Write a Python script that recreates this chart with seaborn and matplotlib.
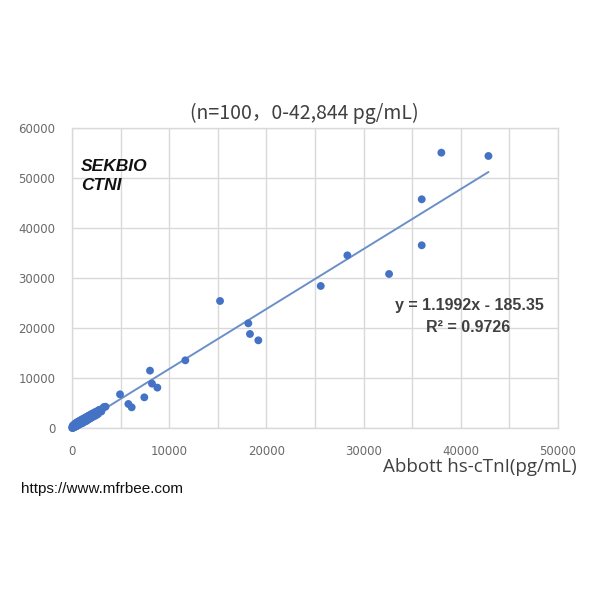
import matplotlib
matplotlib.use("Agg")
import matplotlib.pyplot as plt
import seaborn as sns
import pandas as pd
from matplotlib.ticker import MultipleLocator

# ---- data ----
abbott_outer = [42844, 38000, 35980, 35980, 32620, 28330, 25590, 15230, 18140, 18310,
                19170, 11660, 8025, 8230, 8780, 7440, 4940, 5800, 6140, 3290, 2780]
sekbio_outer = [54400, 55060, 45740, 36540, 30800, 34530, 28400, 25400, 20930, 18800,
                17530, 13530, 11470, 8870, 8070, 6130, 6730, 4800, 4130, 4200, 3600]

abbott_low = [20, 45, 60, 80, 100, 120, 150, 170, 200, 230, 260, 290, 320, 350, 380,
              410, 450, 480, 520, 560, 600, 640, 680, 720, 760, 800, 850, 900, 950, 1000,
              1050, 1100, 1150, 1200, 1260, 1320, 1380, 1440, 1500, 1560, 1620, 1680, 1740,
              1800, 1870, 1940, 2010, 2080, 2150, 2230, 2310, 2400, 2490, 2580, 2680, 2900,
              3020, 3150, 3450, 90, 140, 310, 430, 700, 980, 1230, 1480, 1650, 1900, 2200,
              2450, 2750, 130, 580, 1120, 1700, 2050, 2600, 1350]
sekbio_low = [10, 260, 40, 310, 90, 460, 50, 530, 210, 700, 180, 760, 340, 930, 300,
              900, 380, 1080, 460, 1160, 640, 1260, 620, 1350, 720, 1440, 800, 1550, 920, 1650,
              1020, 1780, 1050, 1880, 1250, 2000, 1380, 2150, 1420, 2280, 1660, 2400, 1780,
              2550, 1920, 2700, 2080, 2850, 2230, 3000, 2380, 3200, 2550, 3350, 2800, 3650,
              3300, 3900, 4250, 450, 130, 620, 360, 1080, 1000, 1650, 1500, 2300, 2000, 2900,
              2750, 3500, 400, 880, 1300, 1800, 2500, 3100, 1900]

slope = 1.1992
intercept = -185.35
title = "(n=100，0-42,844 pg/mL)"
brand = "SEKBIO\nCTNI"
x_label = "Abbott hs-cTnI(pg/mL)"
equation = "y = 1.1992x - 185.35"
r2_text = "R² = 0.9726"
url = "https://www.mfrbee.com"

df = pd.DataFrame({"abbott": abbott_outer + abbott_low,
                   "sekbio": sekbio_outer + sekbio_low})
xs = [min(df["abbott"]), max(df["abbott"])]
fit = pd.DataFrame({"x": xs, "y": [slope * v + intercept for v in xs]})

sns.set_theme(style="white")
plt.rcParams["font.family"] = ["DejaVu Sans"]

fig = plt.figure(figsize=(6, 6), dpi=100)
ax = fig.add_axes([0.12, 0.2867, 0.81, 0.50])

sns.lineplot(data=fit, x="x", y="y", ax=ax, color="#6b8fc8", linewidth=1.4)
sns.scatterplot(data=df, x="abbott", y="sekbio", ax=ax, color="#4472c4",
                s=32, edgecolor="none", clip_on=False, zorder=3)

ax.set_xlim(0, 50000)
ax.set_ylim(0, 60000)
ax.xaxis.set_major_locator(MultipleLocator(10000))
ax.xaxis.set_minor_locator(MultipleLocator(5000))
ax.yaxis.set_major_locator(MultipleLocator(10000))
ax.grid(True, which="both", color="#d9d9d9", linewidth=1.0)
ax.set_axisbelow(True)
for sp in ax.spines.values():
    sp.set_color("#d9d9d9")
    sp.set_linewidth(1.0)
ax.tick_params(axis="both", which="both", length=0, labelsize=8.5,
               labelcolor="#6a6a6a", pad=12)
ax.set_xlabel("")
ax.set_ylabel("")

fig.text(0.507, 0.811, title, ha="center", va="center", fontsize=14,
         color="#404040", family=["Noto Sans CJK SC", "DejaVu Sans"])
ax.text(0.018, 0.895, brand, transform=ax.transAxes, ha="left", va="top",
        fontsize=12.5, fontweight="bold", fontstyle="italic", color="#111111",
        family=["Liberation Sans"], linespacing=1.3)
ax.text(0.817, 0.407, equation, transform=ax.transAxes, ha="center", va="center",
        fontsize=11.5, fontweight="bold", color="#404040",
        family=["Liberation Sans"])
ax.text(0.815, 0.335, r2_text, transform=ax.transAxes, ha="center", va="center",
        fontsize=11.5, fontweight="bold", color="#404040",
        family=["Liberation Sans"])
fig.text(0.962, 0.222, x_label, ha="right", va="center", fontsize=13.5,
         color="#404040", family=["Open Sans", "DejaVu Sans"])
fig.text(0.035, 0.185, url, ha="left", va="center", fontsize=11,
         color="#111111", family=["Liberation Sans"])

fig.savefig("out.png", dpi=100)
